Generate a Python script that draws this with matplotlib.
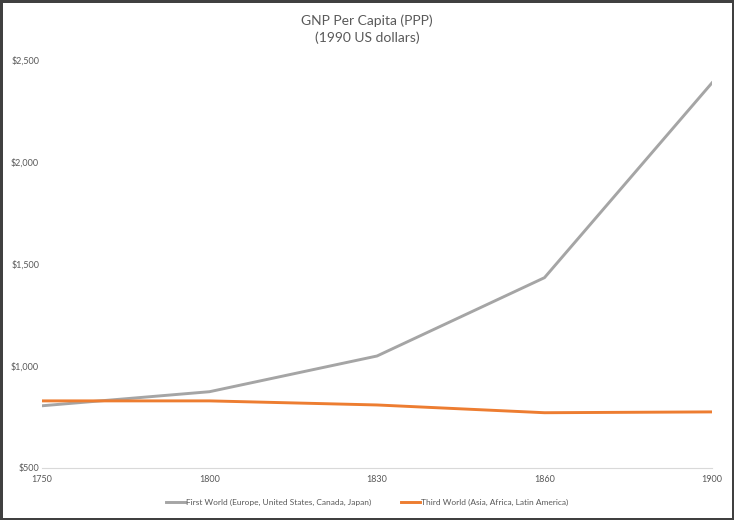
import matplotlib
matplotlib.use("Agg")
import matplotlib.pyplot as plt
from matplotlib.ticker import FuncFormatter

plt.rcParams['font.family'] = ['Lato', 'DejaVu Sans']

# data
years = ['1750', '1800', '1830', '1860', '1900']
first_world = [805, 874, 1049, 1433, 2388]
third_world = [829, 829, 809, 771, 775]

fig = plt.figure(figsize=(7.34, 5.2), dpi=100)
fig.patch.set_edgecolor('#404040')
fig.patch.set_linewidth(2.5)
ax = fig.add_axes([0.0572, 0.1, 0.9128, 0.7846])

x = range(len(years))
ax.plot(x, first_world, color='#a5a5a5', lw=2.1,
        label='First World (Europe, United States, Canada, Japan)')
ax.plot(x, third_world, color='#ed7d31', lw=2.1,
        label='Third World (Asia, Africa, Latin America)')

ax.set_xlim(0, len(years) - 1)
ax.set_ylim(500, 2500)
ax.set_xticks(list(x))
ax.set_xticklabels(years)
ax.set_yticks([500, 1000, 1500, 2000, 2500])
ax.yaxis.set_major_formatter(FuncFormatter(lambda v, p: '${:,.0f}'.format(v)))
ax.tick_params(axis='both', length=0, labelsize=6.5, labelcolor='#595959')
ax.tick_params(axis='y', pad=2)
ax.tick_params(axis='x', pad=5)
for s in ['top', 'right', 'left']:
    ax.spines[s].set_visible(False)
ax.spines['bottom'].set_color('#d9d9d9')
ax.spines['bottom'].set_linewidth(0.8)

fig.text(0.5, 0.972, 'GNP Per Capita (PPP)\n(1990 US dollars)', ha='center', va='top',
         fontsize=10, color='#595959', linespacing=1.4)

fig.legend(loc='center', bbox_to_anchor=(0.5, 0.034), ncol=2, frameon=False,
           fontsize=6, labelcolor='#595959', handlelength=2.3, columnspacing=3.5,
           handletextpad=0.15)

fig.savefig('out.png', dpi=100)
